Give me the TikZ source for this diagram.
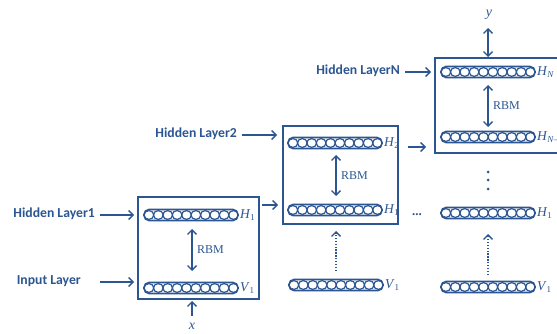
\documentclass[tikz,border=0pt]{standalone}
\usepackage{fontspec}
\setmainfont{Liberation Serif}
\newfontfamily\labelfont{Carlito}
\usetikzlibrary{arrows.meta,calc}
\definecolor{dbnblue}{RGB}{44,86,145}
\newcommand\unitname[2]{\textit{#1}\raisebox{-0.45ex}{\small #2}}
\tikzset{
  unitrow/.style={draw=dbnblue, line width=1.6pt, rounded corners=5pt,
    minimum width=94pt, minimum height=11pt, inner sep=0pt,
    path picture={\foreach \i in {0,...,9}
      \draw[dbnblue, line width=1.2pt] ($(path picture bounding box.west)+(4.9pt+9.4pt*\i,0)$) circle[x radius=4.9pt, y radius=4.4pt];}},
  rbmbox/.style={draw=dbnblue, line width=1.5pt},
  layername/.style={font=\labelfont\bfseries\fontsize{13.7}{16}\selectfont, text=dbnblue, anchor=east, inner sep=0pt},
  unitlbl/.style={font=\fontsize{13.5}{16}\selectfont, text=dbnblue, anchor=west, inner sep=1pt},
  rbmtxt/.style={font=\fontsize{12}{14}\selectfont, text=dbnblue, anchor=west, inner sep=0pt},
  tip/.style={},
  feed/.style={draw=dbnblue, line width=1.4pt, -{Straight Barb[length=4.5pt,width=9pt]}},
  bifeed/.style={draw=dbnblue, line width=1.4pt, {Straight Barb[length=4.5pt,width=9pt]}-{Straight Barb[length=4.5pt,width=9pt]}},
  dotfeed/.style={draw=dbnblue, line width=1.3pt, dash pattern=on 1.3pt off 1.6pt, -{Straight Barb[length=4.5pt,width=9pt]}},
}
\begin{document}
\begin{tikzpicture}[x=1pt,y=-1pt]
\useasboundingbox (0,0) rectangle (557,334);

% RBM boxes
\draw[rbmbox] (138,197) rectangle (259,299);
\draw[rbmbox] (283,126) rectangle (398,224);
\draw[rbmbox] (435,58) rectangle (570,153);

% column 1
\node[unitrow] (c1h) at (191,215) {};
\node[unitrow] (c1v) at (191,288) {};
\node[unitlbl] (c1hl) at (c1h.east) {\unitname{H}{1}};
\node[unitlbl] (c1vl) at (c1v.east) {\unitname{V}{1}};
\coordinate (c1a) at (192,229);
\coordinate (c1b) at (192,271);
\draw[bifeed] (c1a) -- (c1b);
\node[rbmtxt] (c1r) at (197,250) {RBM};
\node[text=dbnblue, font=\itshape\fontsize{14}{16}\selectfont, inner sep=0pt] (xin) at (192,326) {x};
\coordinate (xbot) at (192,316);
\coordinate (xtop) at (192,301);
\draw[feed] (xbot) -- (xtop);

% column 2
\node[unitrow] (c2h) at (335,143) {};
\node[unitrow] (c2m) at (335,210) {};
\node[unitrow] (c2v) at (336,285) {};
\node[unitlbl] (c2hl) at (c2h.east) {\unitname{H}{2}};
\node[unitlbl] (c2ml) at (c2m.east) {\unitname{H}{1}};
\node[unitlbl] (c2vl) at (c2v.east) {\unitname{V}{1}};
\coordinate (c2a) at (336,155);
\coordinate (c2b) at (336,196);
\draw[bifeed] (c2a) -- (c2b);
\node[rbmtxt] (c2r) at (341,176) {RBM};
\coordinate (c2d) at (336,271);
\coordinate (c2u) at (336,231);
\draw[dotfeed] (c2d) -- (c2u);

% column 3
\node[unitrow] (c3h) at (488,72) {};
\node[unitrow] (c3m) at (488,137) {};
\node[unitrow] (c3k) at (488,213) {};
\node[unitrow] (c3v) at (488,287) {};
\node[unitlbl] (c3hl) at (c3h.east) {\unitname{H}{\textit{N}}};
\node[unitlbl] (c3ml) at (c3m.east) {\unitname{H}{\textit{N}--1}};
\node[unitlbl] (c3kl) at (c3k.east) {\unitname{H}{1}};
\node[unitlbl] (c3vl) at (c3v.east) {\unitname{V}{1}};
\coordinate (c3a) at (488,85);
\coordinate (c3b) at (488,127);
\draw[bifeed] (c3a) -- (c3b);
\node[rbmtxt] (c3r) at (493,106) {RBM};
\coordinate (c3d) at (488,275);
\coordinate (c3u) at (488,234);
\draw[dotfeed] (c3d) -- (c3u);
\foreach \yy in {172,180,189} \fill[dbnblue] (488,\yy) circle (1.5pt);
\node[text=dbnblue, font=\itshape\fontsize{14}{16}\selectfont, inner sep=0pt] (yout) at (489,15) {y};
\coordinate (ytop) at (488,28);
\coordinate (ybot) at (488,57);
\draw[bifeed] (ytop) -- (ybot);

% gaps between columns
\node[text=dbnblue, font=\bfseries\fontsize{13}{15}\selectfont, inner sep=0pt] (gap) at (417,215) {...};

% stack links
\coordinate (l1a) at (262,205);
\coordinate (l1b) at (278,205);
\draw[feed] (l1a) -- (l1b);
\coordinate (l2a) at (408,147);
\coordinate (l2b) at (426,147);
\draw[feed] (l2a) -- (l2b);

% layer names
\node[layername] (n1) at (95,214) {Hidden Layer1};
\node[layername] (n0) at (81,281) {Input Layer};
\node[layername] (n2) at (237,134) {Hidden Layer2};
\node[layername] (nN) at (400,71) {Hidden LayerN};
\coordinate (p1) at (100,215);
\coordinate (q1) at (134,215);
\draw[feed] (p1) -- (q1);
\coordinate (p0) at (100,282);
\coordinate (q0) at (134,282);
\draw[feed] (p0) -- (q0);
\coordinate (p2) at (242,135);
\coordinate (q2) at (277,135);
\draw[feed] (p2) -- (q2);
\coordinate (pN) at (405,72);
\coordinate (qN) at (431,72);
\draw[feed] (pN) -- (qN);
\end{tikzpicture}
\end{document}
